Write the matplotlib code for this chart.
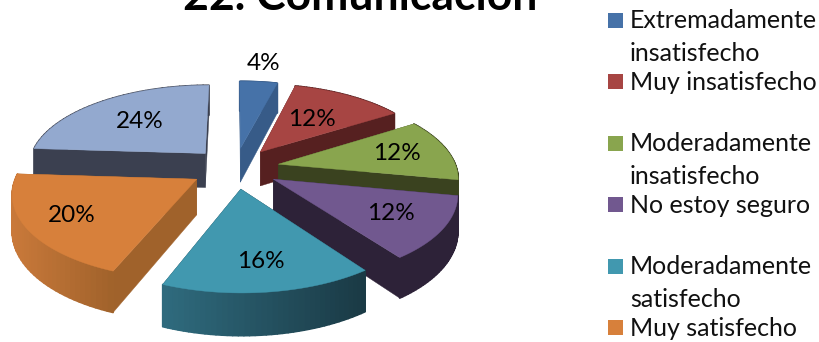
import numpy as np
import matplotlib
matplotlib.use('Agg')
import matplotlib.pyplot as plt
from matplotlib.colors import to_rgb
from matplotlib.patches import Polygon, Rectangle

values = [4, 12, 12, 12, 16, 20, 24]
top_colors = ['#4672A8', '#A74543', '#89A54E', '#71588F', '#4198AF', '#D7803B', '#93A9CF']
cut_colors = ['#375B88', '#562020', '#3A421F', '#2D2238', '#1B3A45', '#A0622B', '#3B4050']
rim_left = ['#375B88', '#562020', '#3A421F', '#2D2238', '#2F6B7E', '#C9793A', '#3B4050']
rim_right = ['#375B88', '#562020', '#3A421F', '#2D2238', '#1A3944', '#A0622B', '#3B4050']
label_radius = [1.32, 0.55, 0.70, 0.71, 0.74, 0.75, 0.60]

title = '22. Comunicación'
legend_labels = ['Extremadamente\ninsatisfecho', 'Muy insatisfecho',
                 'Moderadamente\ninsatisfecho', 'No estoy seguro',
                 'Moderadamente\nsatisfecho', 'Muy satisfecho']

# pie projection, in figure pixels
CX, CY = 235, 168
A, B = 178, 82
PERSP = 0.145
DEPTH = 35
EXPLODE_X, EXPLODE_Y = 0.25, 0.25

plt.rcParams['font.family'] = ['Lato', 'DejaVu Sans']


def project(x, y, z=0.0):
    w = 1 + PERSP * y
    return CX + A * x / w, CY - B * y / w + DEPTH * z / w


def ring(t, mid):
    x = np.sin(t) + EXPLODE_X * np.sin(mid)
    y = np.cos(t) + EXPLODE_Y * np.cos(mid)
    return x, y


fig = plt.figure(figsize=(8.2, 3.42), dpi=100)
ax = fig.add_axes([0, 0, 1, 1])
ax.set_xlim(0, 820)
ax.set_ylim(342, 0)
ax.axis('off')

edges = np.radians(np.cumsum([0] + values) * 3.6)
slices = list(zip(values, edges[:-1], edges[1:], top_colors, cut_colors, rim_left, rim_right))

# back to front
for i in [0, 6, 1, 2, 3, 5, 4]:
    val, t1, t2, top, cut, left, right = slices[i]
    mid = (t1 + t2) / 2
    t = np.linspace(t1, t2, 40)
    xs, ys = ring(t, mid)
    ax0, ay0 = EXPLODE_X * np.sin(mid), EXPLODE_Y * np.cos(mid)

    # cut faces
    for k in [0, -1]:
        pts = [project(ax0, ay0), project(xs[k], ys[k]),
               project(xs[k], ys[k], 1), project(ax0, ay0, 1)]
        ax.add_patch(Polygon(pts, closed=True, fc=cut, ec=cut, lw=0.3))

    # outer wall, shaded left to right
    sx = project(xs, ys)[0]
    lo, hi = sx.min(), sx.max()
    c0, c1 = np.array(to_rgb(left)), np.array(to_rgb(right))
    for j in range(len(t) - 1):
        f = ((sx[j] + sx[j + 1]) / 2 - lo) / (hi - lo)
        col = c0 + (c1 - c0) * f
        pts = [project(xs[j], ys[j]), project(xs[j + 1], ys[j + 1]),
               project(xs[j + 1], ys[j + 1], 1), project(xs[j], ys[j], 1)]
        ax.add_patch(Polygon(pts, closed=True, fc=col, ec=col, lw=1.2, joinstyle='round'))

    # top face
    px, py = project(xs, ys)
    a0x, a0y = project(ax0, ay0)
    pts = np.column_stack([np.r_[a0x, px], np.r_[a0y, py]])
    ax.add_patch(Polygon(pts, closed=True, fc=top, ec=top, lw=0.3))

for (val, t1, t2, *_), r in zip(slices, label_radius):
    mid = (t1 + t2) / 2
    lx = r * np.sin(mid) + EXPLODE_X * np.sin(mid)
    ly = r * np.cos(mid) + EXPLODE_Y * np.cos(mid)
    px, py = project(lx, ly)
    ax.text(px, py, f'{val}%', fontsize=17.5, color='black', ha='center', va='center')

ax.text(360, 10, title, fontsize=32, fontweight='bold', ha='center', va='baseline', color='black')

# legend
for k, (lab, col) in enumerate(zip(legend_labels, top_colors)):
    y = 20.5 + 61.4 * k
    ax.add_patch(Rectangle((608, y - 7.5), 15, 15, fc=col, ec='none'))
    ax.text(630, y + 8, lab.split('\n')[0], fontsize=18, color='#111111', va='baseline')
    if '\n' in lab:
        ax.text(630, y + 40.5, lab.split('\n')[1], fontsize=18, color='#111111', va='baseline')

fig.savefig('out.png', dpi=100)
